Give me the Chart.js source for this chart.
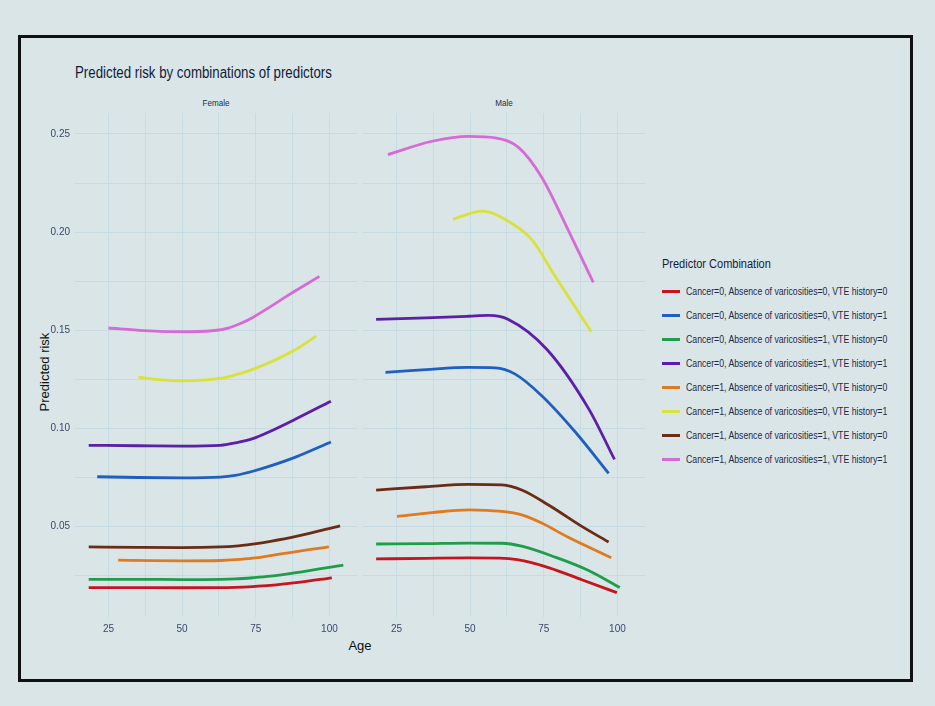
<!DOCTYPE html>
<html>
<head>
<meta charset="utf-8">
<script src="https://cdn.jsdelivr.net/npm/chart.js@4"></script>
<style>
  body { margin:0; background:#d9e5e7; width:935px; height:706px; overflow:hidden; position:relative; font-family:"Liberation Sans",Arial,sans-serif; }
  #frame { position:absolute; left:18px; top:35px; width:889px; height:641px; border:3px solid #111; }
  .txt { position:absolute; white-space:nowrap; }
  canvas { position:absolute; }
  #legend { position:absolute; left:662px; top:257px; }
  #legend .item { height:24px; display:flex; align-items:center; font-size:10.5px; color:#1d2a4a; }
  #legend .sw { width:18px; height:3px; margin-right:6px; flex:none; }
  #legend .lab { display:inline-block; transform:scaleX(0.83); transform-origin:left center; }
</style>
</head>
<body>
<div id="frame"></div>
<div class="txt" style="left:75px;top:64px;font-size:16px;color:#141c38;transform:scaleX(0.83);transform-origin:left top;">Predicted risk by combinations of predictors</div>
<div class="txt" style="left:216px;top:97px;font-size:9.5px;color:#1d2a4a;transform:translateX(-50%) scaleX(0.85);">Female</div>
<div class="txt" style="left:504px;top:97px;font-size:9.5px;color:#1d2a4a;transform:translateX(-50%) scaleX(0.85);">Male</div>
<div class="txt" style="left:44px;top:372px;font-size:13px;color:#111;transform:translate(-50%,-50%) rotate(-90deg);">Predicted risk</div>
<div class="txt" style="left:360px;top:645px;font-size:13px;color:#111;transform:translate(-50%,-50%);">Age</div>
<canvas id="femaleChart" style="left:20px;top:108px;" width="340" height="530"></canvas>
<canvas id="maleChart" style="left:360px;top:108px;" width="290" height="530"></canvas>
<div id="legend"></div>
<script>
// series (same order in both panels)
const seriesLabels = [
  'Cancer=0, Absence of varicosities=0, VTE history=0',
  'Cancer=0, Absence of varicosities=0, VTE history=1',
  'Cancer=0, Absence of varicosities=1, VTE history=0',
  'Cancer=0, Absence of varicosities=1, VTE history=1',
  'Cancer=1, Absence of varicosities=0, VTE history=0',
  'Cancer=1, Absence of varicosities=0, VTE history=1',
  'Cancer=1, Absence of varicosities=1, VTE history=0',
  'Cancer=1, Absence of varicosities=1, VTE history=1'
];
const seriesColors = ['#c4161c', '#1f5fbf', '#1e9e4a', '#5b1fa8', '#e07a20', '#d8e23a', '#6b2c16', '#d66bd6'];

// Female panel: ages and predicted risk per series
const femaleAge = [
  [18.3, 30, 50, 63, 68, 74, 80, 88.7, 100.8],
  [21.2, 35, 50, 63, 68, 74, 80, 88.7, 100.5],
  [18.3, 35, 50, 63, 68, 74, 80, 88.7, 104.7],
  [18.3, 35, 50, 63, 68, 74, 80, 88.7, 100.5],
  [28.3, 40, 50, 63, 68, 74, 80, 86, 93, 99.8],
  [35.2, 42, 50, 62.8, 68, 74, 88.7, 95.5],
  [18.3, 35, 50, 63, 68, 74, 80, 88.7, 103.6],
  [25, 37, 50, 60, 66, 70, 74, 80, 85.4, 96.6]
];
const femaleRisk = [
  [0.0188, 0.0188, 0.0187, 0.0188, 0.0189, 0.0193, 0.0199, 0.0213, 0.0238],
  [0.0753, 0.0749, 0.0747, 0.0751, 0.0760, 0.0781, 0.0808, 0.0854, 0.0930],
  [0.0230, 0.0230, 0.0229, 0.0230, 0.0232, 0.0238, 0.0246, 0.0264, 0.0303],
  [0.0913, 0.0911, 0.0909, 0.0913, 0.0925, 0.0947, 0.0985, 0.1048, 0.1138],
  [0.0328, 0.0325, 0.0324, 0.0326, 0.0330, 0.0338, 0.0351, 0.0365, 0.0381, 0.0395],
  [0.1260, 0.1248, 0.1242, 0.1254, 0.1272, 0.1300, 0.1403, 0.1470],
  [0.0395, 0.0393, 0.0392, 0.0395, 0.0399, 0.0410, 0.0424, 0.0449, 0.0503],
  [0.1511, 0.1498, 0.1492, 0.1497, 0.1512, 0.1535, 0.1565, 0.1620, 0.1672, 0.1774]
];

// Male panel
const maleAge = [
  [18.1, 35, 49.5, 60, 66, 76.6, 87.9, 99.8],
  [21.3, 35, 49.5, 58.5, 65.3, 74.3, 85.7, 97],
  [18.1, 35, 49.5, 60.8, 67.5, 78.9, 90.2, 100.8],
  [18.1, 35, 49.5, 56.3, 63, 76, 90.2, 99],
  [25.2, 37, 49.5, 60.8, 67.5, 74.3, 83.3, 97.9],
  [44.2, 54, 64.2, 71, 78.9, 91.1],
  [18.1, 35, 49.5, 60.8, 67.5, 76.6, 87.9, 97],
  [22.1, 37.1, 49.5, 58.5, 66.4, 74.3, 83.3, 91.8]
];
const maleRisk = [
  [0.0334, 0.0337, 0.0339, 0.0338, 0.0330, 0.0290, 0.0228, 0.0162],
  [0.1285, 0.1299, 0.1310, 0.1308, 0.1276, 0.1166, 0.0981, 0.0770],
  [0.0410, 0.0412, 0.0415, 0.0414, 0.0399, 0.0343, 0.0275, 0.0188],
  [0.1555, 0.1563, 0.1571, 0.1575, 0.1555, 0.1403, 0.1100, 0.0841],
  [0.0551, 0.0570, 0.0584, 0.0576, 0.0559, 0.0517, 0.0444, 0.0340],
  [0.2066, 0.2107, 0.2044, 0.1960, 0.1774, 0.1492],
  [0.0685, 0.0702, 0.0714, 0.0711, 0.0685, 0.0609, 0.0500, 0.0420],
  [0.2395, 0.2463, 0.2488, 0.2480, 0.2432, 0.2280, 0.2010, 0.1744]
];

// axis ticks
const ageTicks = [25, 50, 75, 100];
const ageGrid = [25, 37.5, 50, 62.5, 75, 87.5, 100];
const riskTicks = [0.05, 0.10, 0.15, 0.20, 0.25];
const riskGrid = [0.025, 0.05, 0.075, 0.10, 0.125, 0.15, 0.175, 0.20, 0.225, 0.25];

const gridColor = '#c6dbe2';
const tickColor = '#3b4a6b';
const tickFont = { family: "'Liberation Sans', Arial, sans-serif", size: 10 };

function makeDatasets(ages, risks) {
  return seriesLabels.map(function (lab, i) {
    return {
      label: lab,
      data: ages[i].map(function (a, j) { return { x: a, y: risks[i][j] }; }),
      borderColor: seriesColors[i],
      borderWidth: 2.8,
      pointRadius: 0,
      cubicInterpolationMode: 'monotone',
      fill: false
    };
  });
}

function makeChart(id, ages, risks, showY, pad) {
  return new Chart(document.getElementById(id), {
    type: 'line',
    data: { datasets: makeDatasets(ages, risks) },
    options: {
      responsive: false,
      animation: false,
      layout: { padding: pad },
      plugins: { legend: { display: false }, tooltip: { enabled: false } },
      scales: {
        x: {
          type: 'linear',
          min: 13.65,
          max: 109.35,
          border: { display: false },
          grid: { color: gridColor, lineWidth: 1, drawTicks: false },
          afterBuildTicks: function (s) { s.ticks = ageGrid.map(function (v) { return { value: v }; }); },
          afterFit: function (s) { s.height = 21; s.paddingLeft = 0; s.paddingRight = 0; },
          ticks: {
            color: tickColor, font: tickFont, padding: 6, maxRotation: 0, autoSkip: false,
            callback: function (v) { return ageTicks.indexOf(v) >= 0 ? String(v) : ''; }
          }
        },
        y: {
          min: 0.0038,
          max: 0.2607,
          border: { display: false },
          grid: { color: gridColor, lineWidth: 1, drawTicks: false },
          afterBuildTicks: function (s) { s.ticks = riskGrid.map(function (v) { return { value: v }; }); },
          afterFit: function (s) { s.width = showY ? 55 : 0; s.paddingTop = 0; s.paddingBottom = 0; },
          ticks: {
            display: showY, color: tickColor, font: tickFont, padding: 5, autoSkip: false,
            callback: function (v) {
              var hit = riskTicks.some(function (t) { return Math.abs(t - v) < 1e-9; });
              return hit ? v.toFixed(2) : '';
            }
          }
        }
      }
    }
  });
}

makeChart('femaleChart', femaleAge, femaleRisk, true, { top: 5, right: 3, left: 0, bottom: 0 });
makeChart('maleChart', maleAge, maleRisk, false, { top: 5, right: 5, left: 3, bottom: 0 });

// shared legend
var lg = document.getElementById('legend');
var html = '<div style="font-size:12.5px;color:#141c38;height:22px;transform:scaleX(0.88);transform-origin:left top;">Predictor Combination</div>';
seriesLabels.forEach(function (lab, i) {
  html += '<div class="item"><span class="sw" style="background:' + seriesColors[i] + '"></span><span class="lab">' + lab + '</span></div>';
});
lg.innerHTML = html;
</script>
</body>
</html>
